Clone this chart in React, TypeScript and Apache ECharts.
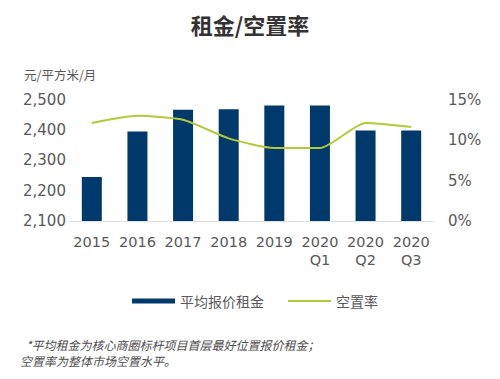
import React, { useEffect, useRef } from "react";
import * as echarts from "echarts";

const categories = ["2015", "2016", "2017", "2018", "2019", "2020\nQ1", "2020\nQ2", "2020\nQ3"];
const rentValues = [2245, 2395, 2466, 2468, 2480, 2480, 2398, 2398];
const vacancyValues = [12.1, 13.0, 12.5, 10.2, 9.0, 9.0, 12.1, 11.6];
const titleText = "租金/空置率";
const unitText = "元/平方米/月";
const rentName = "平均报价租金";
const vacancyName = "空置率";
const note1 = "*平均租金为核心商圈标杆项目首层最好位置报价租金；";
const note2 = "空置率为整体市场空置水平。";

const NUM_FONT = "'DejaVu Sans', sans-serif";
const CJK_FONT = "'Noto Sans CJK SC', sans-serif";

export default function App() {
  const ref = useRef<HTMLDivElement>(null);
  useEffect(() => {
    if (!ref.current) return;
    const chart = echarts.init(ref.current, null, { renderer: "svg" });
    chart.setOption({
      animation: false,
      backgroundColor: "#ffffff",
      title: {
        text: titleText,
        left: "center",
        top: 8,
        textStyle: { fontFamily: CJK_FONT, fontSize: 22, fontWeight: "bold", color: "#333333" },
      },
      graphic: [
        {
          type: "text",
          left: 24,
          top: 68,
          style: { text: unitText, fontFamily: CJK_FONT, fontSize: 12.5, fill: "#595959" },
        },
        {
          type: "text",
          left: 26,
          top: 338,
          style: { text: note1, fontFamily: CJK_FONT, fontSize: 12, fontStyle: "italic", fill: "#4d4d4d" },
        },
        {
          type: "text",
          left: 20,
          top: 354,
          style: { text: note2, fontFamily: CJK_FONT, fontSize: 12, fontStyle: "italic", fill: "#4d4d4d" },
        },
      ],
      legend: {
        left: 127,
        top: 289,
        itemWidth: 43,
        itemHeight: 5,
        itemGap: 23,
        textStyle: { fontFamily: CJK_FONT, fontSize: 14, color: "#595959" },
        data: [
          { name: rentName, icon: "rect" },
          { name: vacancyName, itemStyle: { opacity: 0 } },
        ],
      },
      grid: { left: 69, right: 66, top: 99.5, bottom: 158 },
      xAxis: {
        type: "category",
        data: categories,
        axisLine: { lineStyle: { color: "#e0e0e0", width: 1 } },
        axisTick: { show: false },
        axisLabel: {
          fontFamily: NUM_FONT,
          fontSize: 14.5,
          color: "#595959",
          margin: 12,
          lineHeight: 18,
          interval: 0,
        },
      },
      yAxis: [
        {
          type: "value",
          min: 2100,
          max: 2500,
          interval: 100,
          splitLine: { show: false },
          axisLine: { show: false },
          axisTick: { show: false },
          axisLabel: {
            fontFamily: NUM_FONT,
            fontSize: 15,
            color: "#595959",
            align: "left",
            margin: 46,
            formatter: (v: number) => v.toLocaleString("en-US"),
          },
        },
        {
          type: "value",
          min: 0,
          max: 15,
          interval: 5,
          splitLine: { show: false },
          axisLine: { show: false },
          axisTick: { show: false },
          axisLabel: {
            fontFamily: NUM_FONT,
            fontSize: 15,
            color: "#595959",
            align: "left",
            margin: 14,
            formatter: "{value}%",
          },
        },
      ],
      series: [
        {
          name: rentName,
          type: "bar",
          data: rentValues,
          barWidth: 20,
          itemStyle: { color: "#003a6c" },
          yAxisIndex: 0,
        },
        {
          name: vacancyName,
          type: "line",
          data: vacancyValues,
          yAxisIndex: 1,
          symbol: "none",
          smooth: 0.2,
          lineStyle: { color: "#b4c938", width: 2 },
          itemStyle: { color: "#b4c938" },
        },
      ],
    });
    return () => chart.dispose();
  }, []);
  return (
    <div
      ref={ref}
      style={{ position: "absolute", left: 0, top: 0, width: 500, height: 379 }}
    />
  );
}
